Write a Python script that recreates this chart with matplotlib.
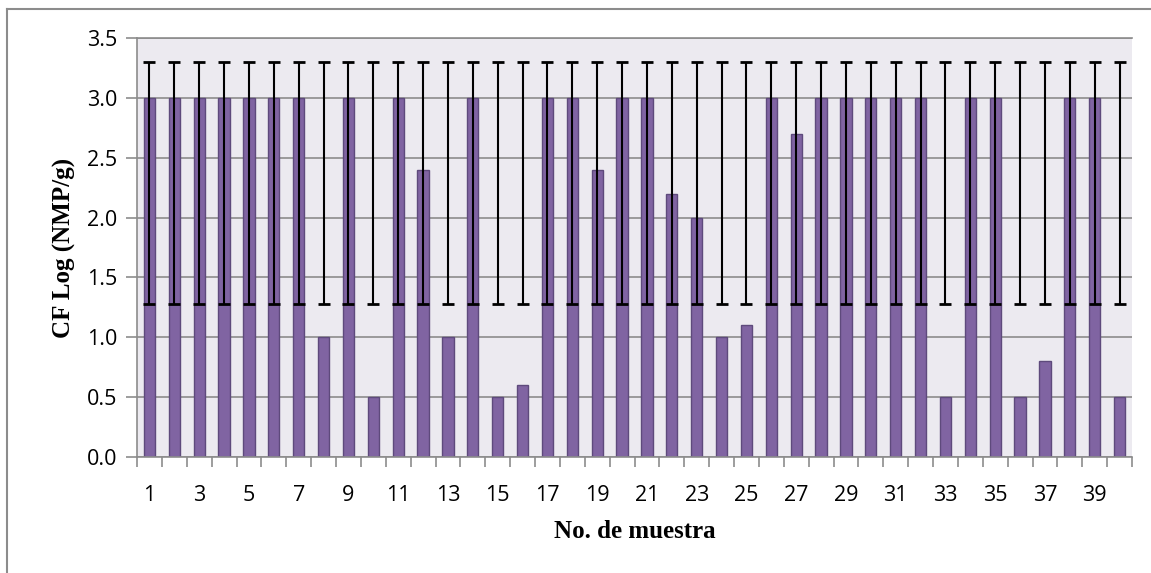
import numpy as np
import matplotlib.pyplot as plt
from matplotlib.lines import Line2D

# sample numbers and CF log values
muestras = list(range(1, 41))
cf_log = [3.0, 3.0, 3.0, 3.0, 3.0, 3.0, 3.0, 1.0, 3.0, 0.5,
          3.0, 2.4, 1.0, 3.0, 0.5, 0.6, 3.0, 3.0, 2.4, 3.0,
          3.0, 2.2, 2.0, 1.0, 1.1, 3.0, 2.7, 3.0, 3.0, 3.0,
          3.0, 3.0, 0.5, 3.0, 3.0, 0.5, 0.8, 3.0, 3.0, 0.5]
# error bar ends (same for every sample)
err_low = [1.28] * 40
err_high = [3.30] * 40
y_ticks = [0.0, 0.5, 1.0, 1.5, 2.0, 2.5, 3.0, 3.5]

fig = plt.figure(figsize=(11.51, 5.73), dpi=100)
ax = fig.add_axes([137 / 1151, 1 - 457 / 573, (1132 - 137) / 1151, (457 - 38) / 573])
ax.set_facecolor('#ECEAF0')

x = np.arange(len(muestras))
ax.bar(x, cf_log, width=0.45, color='#8064A2', edgecolor='#5E4A7C',
       linewidth=1, zorder=2)

center = [(lo + hi) / 2 for lo, hi in zip(err_low, err_high)]
half = [(hi - lo) / 2 for lo, hi in zip(err_low, err_high)]
ax.errorbar(x, center, yerr=half, fmt='none', ecolor='black',
            elinewidth=1.5, capsize=4.5, capthick=2, zorder=3)

ax.set_xlim(-0.5, len(muestras) - 0.5)
ax.set_ylim(0, 3.5)
ax.set_yticks(y_ticks)
ax.set_yticklabels([f'{t:.1f}' for t in y_ticks])
ax.yaxis.grid(True, color='#8C8C8C', linewidth=1.2, zorder=1)
ax.set_axisbelow(True)

ax.set_xticks(x[::2])
ax.set_xticklabels([str(m) for m in muestras[::2]])
ax.set_xticks(np.arange(-0.5, len(muestras)), minor=True)
ax.tick_params(axis='x', which='major', length=0, pad=20)
ax.tick_params(axis='x', which='minor', length=7, width=1.2, color='#8C8C8C')
ax.tick_params(axis='y', length=8, width=1.2, color='#8C8C8C', pad=6)
for lab in ax.get_xticklabels() + ax.get_yticklabels():
    lab.set_fontfamily('Open Sans')
    lab.set_fontsize(15.5)

for side in ['left', 'bottom', 'top']:
    ax.spines[side].set_color('#8C8C8C')
    ax.spines[side].set_linewidth(1.2)
ax.spines['right'].set_visible(False)

ax.set_xlabel('No. de muestra', fontfamily='Liberation Serif',
              fontweight='bold', fontsize=18, labelpad=10)
ax.set_ylabel('CF Log (NMP/g)', fontfamily='Liberation Serif',
              fontweight='bold', fontsize=18, labelpad=8)

# outer frame (only left and top visible in the crop)
fig.add_artist(Line2D([7 / 1151, 7 / 1151], [0, 1 - 9 / 573],
                      color='#8C8C8C', linewidth=1.5))
fig.add_artist(Line2D([7 / 1151, 1], [1 - 9 / 573, 1 - 9 / 573],
                      color='#8C8C8C', linewidth=1.5))

fig.savefig('out.png', dpi=100)
